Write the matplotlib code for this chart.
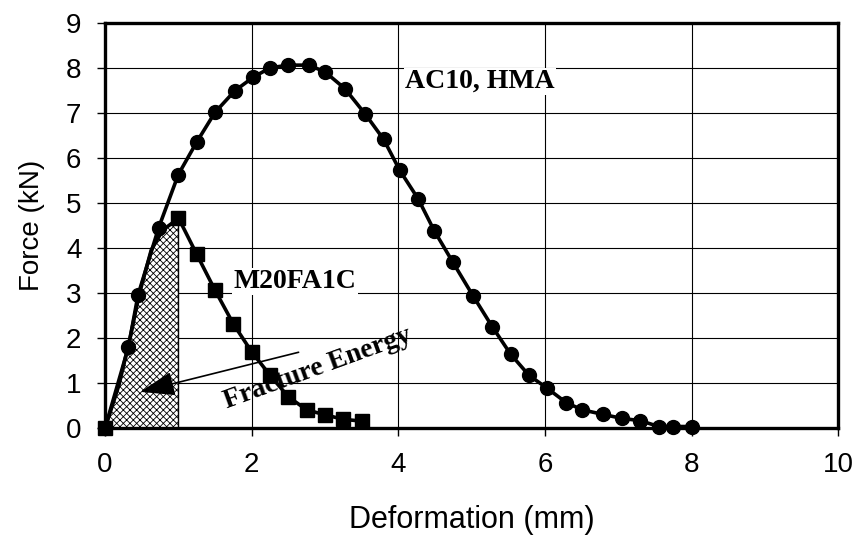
import numpy as np
import matplotlib
matplotlib.use("Agg")
import matplotlib.pyplot as plt

# AC10, HMA (circles)
ac_x = [0, 0.32, 0.45, 0.73, 1.0, 1.25, 1.5, 1.77, 2.02, 2.25, 2.5, 2.78, 3.0, 3.27, 3.55, 3.8,
        4.02, 4.27, 4.49, 4.74, 5.02, 5.28, 5.53, 5.78, 6.03, 6.29, 6.51, 6.79, 7.05, 7.3, 7.55, 7.75, 8.0]
ac_y = [0, 1.81, 2.96, 4.45, 5.64, 6.36, 7.02, 7.50, 7.80, 8.01, 8.07, 8.07, 7.92, 7.55, 6.98, 6.42,
        5.73, 5.10, 4.39, 3.70, 2.94, 2.26, 1.65, 1.18, 0.89, 0.57, 0.41, 0.31, 0.22, 0.17, 0.04, 0.04, 0.04]

# M20FA1C (squares) - measured points
m20_x = [0, 1.0, 1.25, 1.5, 1.75, 2.0, 2.25, 2.5, 2.75, 3.0, 3.25, 3.5]
m20_y = [0, 4.68, 3.87, 3.07, 2.32, 1.70, 1.18, 0.70, 0.41, 0.30, 0.20, 0.16]

# M20FA1C loading branch (no markers)
rise_x = [0, 0.19, 0.34, 0.47, 0.63, 0.79, 0.95]
rise_y = [0, 0.96, 2.0, 3.0, 3.96, 4.41, 4.60]

plt.rcParams["font.family"] = "Liberation Sans"
plt.rcParams["hatch.linewidth"] = 0.6

fig = plt.figure(figsize=(8.6, 5.48), dpi=100)
ax = fig.add_axes([0.1221, 0.2184, 0.8527, 0.7391])

# fracture energy area
fx = np.r_[rise_x, m20_x[1]]
fy = np.r_[rise_y, m20_y[1]]
ax.fill_between(fx, fy, 0, facecolor="white", edgecolor="black", hatch="xxxxx", linewidth=0, zorder=2)
ax.plot([m20_x[1], m20_x[1]], [0, m20_y[1]], color="black", lw=1.0, zorder=2)

ax.plot(ac_x, ac_y, color="black", lw=2.6, marker="o", ms=10, zorder=4, clip_on=False)

m20_line_x = np.r_[rise_x, m20_x[1:]]
m20_line_y = np.r_[rise_y, m20_y[1:]]
marks = [0] + list(range(len(rise_x), len(m20_line_x)))
ax.plot(m20_line_x, m20_line_y, color="black", lw=2.6, marker="s", ms=10.5,
        markevery=marks, zorder=5, clip_on=False)

ax.annotate("", xy=(0.48, 0.81), xytext=(2.64, 1.69),
            arrowprops=dict(arrowstyle="-|>,head_length=0.8,head_width=0.28",
                            color="black", lw=1.2, mutation_scale=27, shrinkA=0, shrinkB=0),
            zorder=6)

serif = dict(family="Liberation Serif", weight="bold", size=20)
ax.text(4.09, 7.56, "AC10, HMA", ha="left", va="baseline", zorder=6,
        bbox=dict(facecolor="white", edgecolor="none", pad=1), **serif)
ax.text(1.75, 3.12, "M20FA1C", ha="left", va="baseline", zorder=6,
        bbox=dict(facecolor="white", edgecolor="none", pad=1), **serif)
ax.text(2.90, 1.32, "Fracture Energy", ha="center", va="center", rotation=20,
        rotation_mode="anchor", zorder=6, **serif)

ax.set_xlim(0, 10)
ax.set_ylim(0, 9)
ax.set_xticks(np.arange(0, 11, 2))
ax.set_yticks(np.arange(0, 10, 1))
ax.grid(True, color="black", lw=0.8)
ax.set_axisbelow(True)
ax.tick_params(direction="out", length=6, width=1, pad=11, labelsize=20)
for s in ax.spines.values():
    s.set_linewidth(2.4)
    s.set_zorder(3)

ax.set_xlabel("Deformation (mm)", fontsize=22)
ax.set_ylabel("Force (kN)", fontsize=20)
ax.xaxis.set_label_coords(0.5, -0.19)
ax.yaxis.set_label_coords(-0.082, 0.5)

fig.savefig("out.png", dpi=100)
